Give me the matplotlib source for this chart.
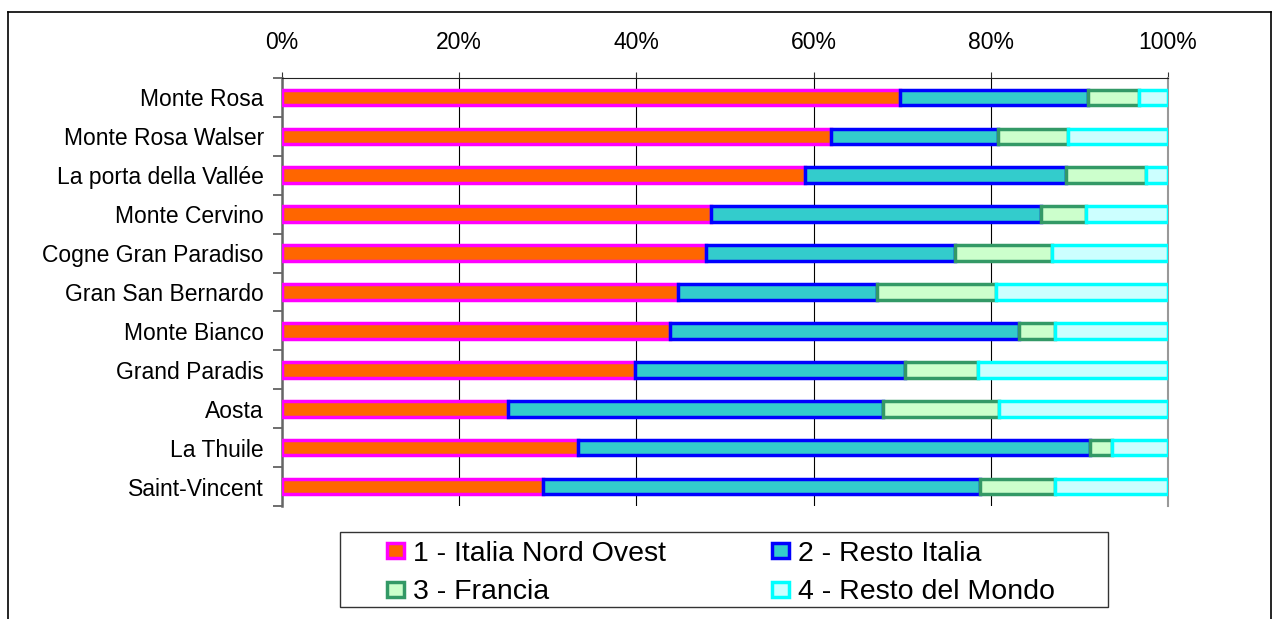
import matplotlib
matplotlib.use("Agg")
import matplotlib.pyplot as plt
from matplotlib.patches import Patch, Rectangle
from matplotlib.lines import Line2D
import numpy as np

plt.rcParams['font.family'] = ['Liberation Sans', 'DejaVu Sans']

categories = ["Monte Rosa", "Monte Rosa Walser", "La porta della Vallée", "Monte Cervino",
              "Cogne Gran Paradiso", "Gran San Bernardo", "Monte Bianco", "Grand Paradis",
              "Aosta", "La Thuile", "Saint-Vincent"]
series_names = ["1 - Italia Nord Ovest", "2 - Resto Italia", "3 - Francia", "4 - Resto del Mondo"]

# percentage shares (each row sums to 100)
italia_nord_ovest = [69.8, 62.0, 59.0, 48.4, 47.9, 44.7, 43.8, 39.8, 25.5, 33.4, 29.5]
resto_italia      = [21.2, 18.8, 29.5, 37.3, 28.1, 22.5, 39.4, 30.5, 42.3, 57.8, 49.3]
francia           = [5.7,  7.9,  9.0,  5.0,  10.9, 13.4, 4.0,  8.3,  13.1, 2.5,  8.4]
resto_mondo       = [3.3,  11.3, 2.5,  9.3,  13.1, 19.4, 12.8, 21.4, 19.1, 6.3,  12.8]

x_ticks = [0, 20, 40, 60, 80, 100]
x_tick_labels = ["0%", "20%", "40%", "60%", "80%", "100%"]

fills = ["#FF6600", "#33CCCC", "#CCFFCC", "#CCFFFF"]
edges = ["#FF00FF", "#0000FF", "#339966", "#00FFFF"]

W, H = 1274, 619
fig = plt.figure(figsize=(W / 100, H / 100), dpi=100)
ax = fig.add_axes([282 / W, 1 - 506 / H, (1168 - 282) / W, (506 - 78) / H])

y = np.arange(len(categories))
data = [italia_nord_ovest, resto_italia, francia, resto_mondo]
left = np.zeros(len(categories))
handles = []
for vals, fc, ec, name in zip(data, fills, edges, series_names):
    vals = np.array(vals)
    ax.barh(y, vals, left=left, height=0.40, color=fc, edgecolor=ec, linewidth=2.5, zorder=3)
    left += vals
    handles.append(Patch(facecolor=fc, edgecolor=ec, linewidth=2.5, label=name))

ax.set_xlim(0, 100)
ax.set_ylim(len(categories) - 0.5, -0.5)

ax.xaxis.tick_top()
ax.set_xticks(x_ticks)
ax.set_xticklabels(x_tick_labels, fontsize=16.5)
ax.tick_params(axis='x', which='major', direction='out', length=4, width=0.8, pad=13, color='#333333')

ax.set_yticks(y)
ax.set_yticklabels(categories, fontsize=16.5)
ax.set_yticks(np.arange(len(categories) + 1) - 0.5, minor=True)
ax.tick_params(axis='y', which='major', length=0, pad=13)
ax.tick_params(axis='y', which='minor', direction='out', length=6.5, width=1.2, color='#555555')

ax.grid(axis='x', color='black', linewidth=0.8, zorder=1)
ax.set_axisbelow(True)

ax.spines['bottom'].set_visible(False)
ax.spines['right'].set_color('#999999')
ax.spines['right'].set_linewidth(1.5)
ax.spines['left'].set_color('#666666')
ax.spines['left'].set_linewidth(1.8)
ax.spines['top'].set_color('#222222')
ax.spines['top'].set_linewidth(0.8)

# legend with its own frame
fig.patches.append(Rectangle((340 / W, 1 - 607 / H), (1108 - 340) / W, (607 - 532) / H,
                             transform=fig.transFigure, facecolor='white', edgecolor='#333333',
                             linewidth=1.0))
order = [0, 2, 1, 3]
fig.legend([handles[i] for i in order], [series_names[i] for i in order],
           loc='center', bbox_to_anchor=(721 / W, 1 - 573 / H), ncol=2, frameon=False,
           fontsize=20.5, handlelength=0.6, handleheight=0.42, handletextpad=0.3,
           columnspacing=3.75, labelspacing=0.45, borderpad=0)

# outer chart border
lw = 1.2
fig.add_artist(Line2D([8 / W, 8 / W], [0, 1 - 12 / H], transform=fig.transFigure, color='black', linewidth=lw))
fig.add_artist(Line2D([1271 / W, 1271 / W], [0, 1 - 12 / H], transform=fig.transFigure, color='black', linewidth=lw))
fig.add_artist(Line2D([8 / W, 1271 / W], [1 - 12 / H, 1 - 12 / H], transform=fig.transFigure, color='black', linewidth=lw))

fig.savefig("out.png", dpi=100, facecolor='white')
